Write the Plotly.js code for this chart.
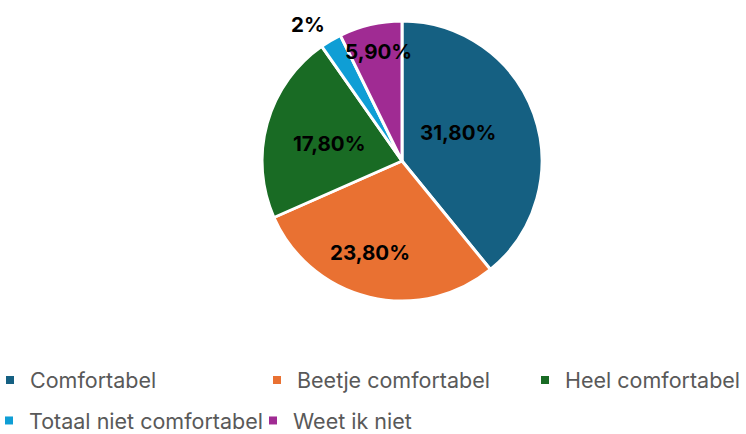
<!DOCTYPE html>
<html>
<head>
<meta charset="utf-8">
<script src="https://cdn.plot.ly/plotly-3.0.1.min.js"></script>
<style>html,body{margin:0;padding:0;background:#fff;}#chart{width:746px;height:434px;}</style>
</head>
<body>
<div id="chart"></div>
<script>
// ---- data ----
const categories = ['Comfortabel', 'Beetje comfortabel', 'Heel comfortabel', 'Totaal niet comfortabel', 'Weet ik niet'];
const values = [31.8, 23.8, 17.8, 2, 5.9];
const valueLabels = ['31,80%', '23,80%', '17,80%', '2%', '5,90%'];
const colors = ['#156082', '#E97132', '#196B24', '#0F9ED5', '#A02B93'];

// ---- layout constants ----
const W = 746, H = 434;
const CX = 402, CY = 161, R = 140;
// label placement (fraction of radius, angle nudge in degrees)
const labelRadius = [0.45, 0.69, 0.54, 1.18, 0.80];
const labelNudge = [-7, 6, -2, -4, 1];
// legend text-start positions (px) and row centres
const legendTextX = [30, 297, 565, 29, 293];
const legendRowY = [380, 380, 380, 420.5, 420.5];

const pie = {
  type: 'pie',
  labels: categories,
  values: values,
  sort: false,
  direction: 'clockwise',
  rotation: 0,
  textinfo: 'none',
  hoverinfo: 'label+percent',
  marker: { colors: colors, line: { color: '#ffffff', width: 3 } },
  domain: { x: [(CX - R) / W, (CX + R) / W], y: [1 - (CY + R) / H, 1 - (CY - R) / H] },
  showlegend: false
};

const traces = [pie];
const legendIds = ['legend', 'legend2', 'legend3', 'legend4', 'legend5'];
categories.forEach((c, i) => {
  traces.push({
    type: 'scatter', mode: 'markers', x: [null], y: [null], name: c,
    marker: { symbol: 'square', size: 8, color: colors[i] },
    legend: legendIds[i], showlegend: true, hoverinfo: 'skip'
  });
});

const total = values.reduce((a, b) => a + b, 0);
const annotations = [];
let cum = 0;
values.forEach((v, i) => {
  const mid = (cum + v / 2) / total * 360 + labelNudge[i];
  cum += v;
  const a = mid * Math.PI / 180;
  const r = R * labelRadius[i];
  annotations.push({
    xref: 'paper', yref: 'paper',
    x: (CX + r * Math.sin(a)) / W,
    y: 1 - (CY - r * Math.cos(a)) / H,
    xanchor: 'center', yanchor: 'middle',
    text: '<b>' + valueLabels[i] + '</b>',
    showarrow: false,
    font: { family: 'Inter, "Liberation Sans", Arial, sans-serif', size: 20.5, color: '#000000' }
  });
});

const layout = {
  width: W, height: H,
  margin: { l: 0, r: 0, t: 0, b: 0, autoexpand: false },
  paper_bgcolor: '#ffffff', plot_bgcolor: '#ffffff',
  xaxis: { visible: false }, yaxis: { visible: false },
  annotations: annotations
};
legendIds.forEach((id, i) => {
  layout[id] = {
    x: (legendTextX[i] - 40) / W, y: 1 - legendRowY[i] / H,
    xanchor: 'left', yanchor: 'middle',
    orientation: 'h', bgcolor: 'rgba(0,0,0,0)', borderwidth: 0,
    font: { family: 'Inter, "Open Sans", sans-serif', size: 21.5, color: '#595959' }
  };
});

Plotly.newPlot('chart', traces, layout, { displayModeBar: false, staticPlot: true });
</script>
</body>
</html>
